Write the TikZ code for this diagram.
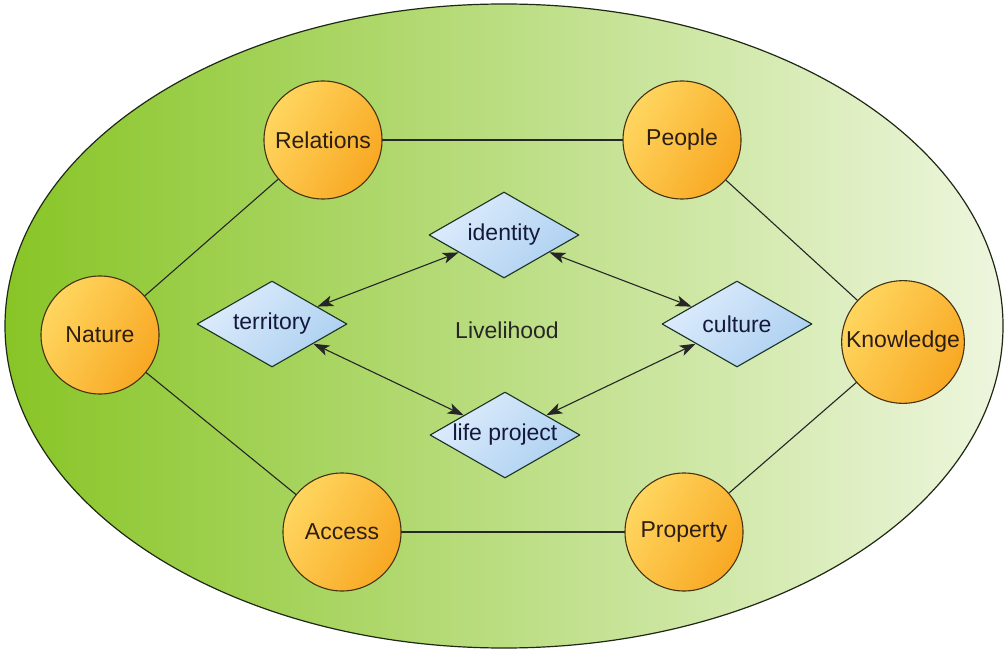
\documentclass[tikz,border=0pt]{standalone}
\usepackage{fontspec}
\setmainfont{Liberation Sans}
\usetikzlibrary{arrows.meta}
\usetikzlibrary{shapes.geometric}

\definecolor{fieldgreen}{RGB}{136,197,38}
\definecolor{fieldmid}{RGB}{200,226,112}
\definecolor{fieldpale}{RGB}{238,246,222}
\definecolor{fieldline}{RGB}{30,40,20}
\definecolor{capitaltop}{RGB}{255,214,95}
\definecolor{capitalbottom}{RGB}{248,168,35}
\definecolor{capitalline}{RGB}{70,50,20}
\definecolor{capitaltext}{RGB}{45,30,20}
\definecolor{facettop}{RGB}{222,236,252}
\definecolor{facetbottom}{RGB}{172,208,240}
\definecolor{facetline}{RGB}{25,50,35}
\definecolor{facettext}{RGB}{20,25,60}

\begin{document}
\begin{tikzpicture}[line cap=round,line join=round,>={Stealth[length=16pt,width=11pt,inset=4pt]},x=1pt,y=-1pt,
  font=\fontsize{23}{27}\selectfont,
  capital/.style={circle,draw=capitalline,line width=1.1pt,minimum size=118pt,inner sep=3pt,
    top color=capitaltop,bottom color=capitalbottom,shading angle=60,text=capitaltext},
  facet/.style={diamond,draw=facetline,line width=1.1pt,minimum width=150pt,minimum height=86pt,inner sep=0pt,
    aspect=1.75,top color=facettop,bottom color=facetbottom,shading angle=45,text=facettext},
  tie/.style={draw=black!85,line width=1.1pt},
  link/.style={<->,draw=black!85,line width=1.1pt}]
\useasboundingbox (0,0) rectangle (1008,652);
\fill[white] (0,0) rectangle (1008,652);
\shade[draw=fieldline,line width=1.2pt,left color=fieldgreen,middle color=fieldmid,right color=fieldpale]
  (504,326) ellipse [x radius=499, y radius=322];

\node[capital] (relations) at (323,140) {Relations};
\node[capital] (people) at (682,140) {People};
\node[capital] (nature) at (100,335) {Nature};
\node[capital] (knowledge) at (903,342) {Knowledge};
\node[capital] (access) at (342,532) {Access};
\node[capital] (property) at (684,532) {Property};

\node[facet] (identity) at (504,235) {identity};
\node[facet] (territory) at (272,324) {territory};
\node[facet] (culture) at (737,324) {culture};
\node[facet] (lifeproject) at (505,435) {life project};
\node[text=black!85] (livelihood) at (507,330) {Livelihood};

\draw[tie] (relations) -- (people);
\draw[tie] (people) -- (knowledge);
\draw[tie] (knowledge) -- (property);
\draw[tie] (property) -- (access);
\draw[tie] (access) -- (nature);
\draw[tie] (nature) -- (relations);

\draw[link] (identity) -- (territory);
\draw[link] (identity) -- (culture);
\draw[link] (territory) -- (lifeproject);
\draw[link] (culture) -- (lifeproject);
\end{tikzpicture}
\end{document}
